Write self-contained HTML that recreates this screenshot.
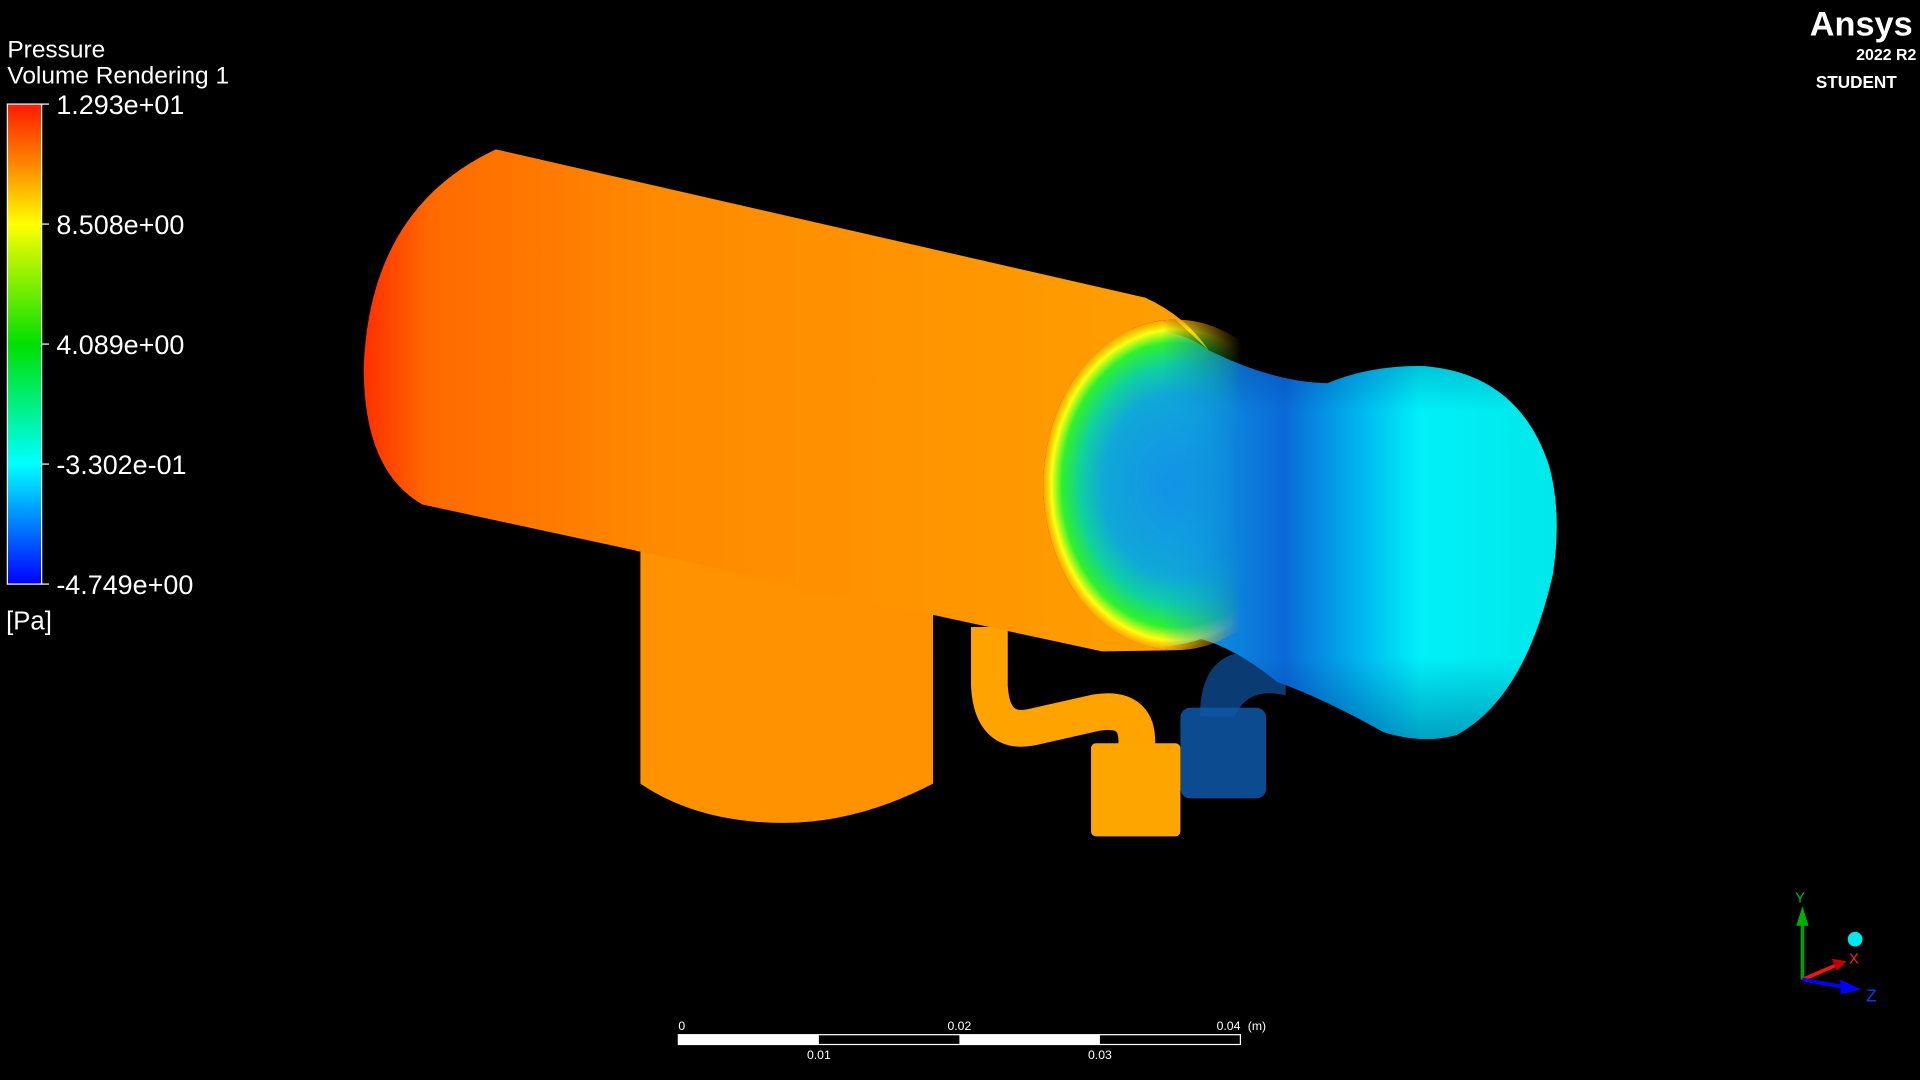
<!DOCTYPE html>
<html><head><meta charset="utf-8">
<style>
html,body{margin:0;padding:0;background:#000;width:1920px;height:1080px;overflow:hidden}
svg{display:block}
text{font-family:"Liberation Sans",Arial,sans-serif;fill:#fff}
</style></head>
<body>
<svg id="view" width="1920" height="1080" viewBox="0 0 1568 882" xmlns="http://www.w3.org/2000/svg">
<defs>
<linearGradient id="cbar" x1="0" y1="0" x2="0" y2="1">
<stop offset="0" stop-color="#ff1a00"/><stop offset="0.13" stop-color="#ff8c00"/>
<stop offset="0.25" stop-color="#ffff00"/><stop offset="0.5" stop-color="#00e000"/>
<stop offset="0.75" stop-color="#00ffff"/><stop offset="1" stop-color="#0000ff"/>
</linearGradient>
<linearGradient id="body" x1="0" y1="0" x2="1" y2="0">
<stop offset="0" stop-color="#ff3000"/><stop offset="0.08" stop-color="#ff6a00"/>
<stop offset="0.35" stop-color="#ff8a00"/><stop offset="1" stop-color="#ffa000"/>
</linearGradient>
<linearGradient id="noz" gradientUnits="userSpaceOnUse" x1="955" y1="0" x2="1270" y2="0">
<stop offset="0" stop-color="#10a0e0"/><stop offset="0.3" stop-color="#0a6ad8"/>
<stop offset="0.5" stop-color="#00b8f0"/><stop offset="0.65" stop-color="#00f0f8"/>
<stop offset="1" stop-color="#00e8ea"/>
</linearGradient>
<linearGradient id="nozShade" x1="0" y1="0" x2="0" y2="1">
<stop offset="0" stop-color="#001060" stop-opacity="0.35"/><stop offset="0.2" stop-color="#001060" stop-opacity="0"/>
<stop offset="0.8" stop-color="#001060" stop-opacity="0"/><stop offset="1" stop-color="#001060" stop-opacity="0.35"/>
</linearGradient>
<radialGradient id="ring" cx="0.5" cy="0.5" r="0.5">
<stop offset="0" stop-color="#1490e8"/><stop offset="0.55" stop-color="#10a8d8"/>
<stop offset="0.72" stop-color="#10d0a0"/><stop offset="0.86" stop-color="#30f030"/>
<stop offset="0.94" stop-color="#ffff10"/><stop offset="1" stop-color="#ffa000"/>
</radialGradient>
<linearGradient id="fadeGrad" gradientUnits="userSpaceOnUse" x1="852" y1="0" x2="1068" y2="0">
<stop offset="0" stop-color="#fff"/><stop offset="0.45" stop-color="#fff"/>
<stop offset="0.75" stop-color="#000"/>
</linearGradient>
<mask id="fade"><rect x="800" y="200" width="320" height="400" fill="url(#fadeGrad)"/></mask>
</defs>
<rect width="1568" height="882" fill="#000"/>

<!-- legend -->
<text x="6" y="47" font-size="20">Pressure</text>
<text x="6" y="68" font-size="20">Volume Rendering 1</text>
<rect x="6" y="85" width="28" height="392" fill="url(#cbar)" stroke="#fff" stroke-width="1"/>
<g id="ticks"></g>
<text x="5" y="514" font-size="21">[Pa]</text>

<!-- logo -->
<text x="1562" y="29" font-size="28" font-weight="bold" text-anchor="end">Ansys</text>
<text x="1565" y="49" font-size="13" font-weight="bold" text-anchor="end">2022 R2</text>
<text x="1549" y="72" font-size="14" font-weight="bold" text-anchor="end">STUDENT</text>

<!-- geometry -->
<g>
<path d="M980,585 Q980,545 1005,535 Q1030,528 1050,540 L1050,568 Q1020,560 1008,585 Z" fill="#0d4a90" opacity="0.8"/>
<rect x="964" y="578" width="70" height="74" rx="8" fill="#0e58a8" opacity="0.85"/>
<path d="M523,440 L762,440 L762,640 Q700,672 640,672 Q570,672 523,640 Z" fill="#ff9200"/>
<path d="M808,512 L808,560 Q810,600 842,594 L895,582 Q932,576 928,612" fill="none" stroke="#ffa300" stroke-width="30"/>
<rect x="891" y="607" width="73" height="76" rx="4" fill="#ffa500"/>
<path d="M880,275 Q950,258 987,286 Q1040,312 1084,313 Q1120,298 1163,299 Q1240,305 1265,380 Q1276,420 1268,470 Q1245,570 1190,600 Q1163,608 1130,598 Q1080,570 1043,557 Q1010,530 981,522 Q940,535 880,525 Z" fill="url(#noz)"/>
<path d="M880,275 Q950,258 987,286 Q1040,312 1084,313 Q1120,298 1163,299 Q1240,305 1265,380 Q1276,420 1268,470 Q1245,570 1190,600 Q1163,608 1130,598 Q1080,570 1043,557 Q1010,530 981,522 Q940,535 880,525 Z" fill="url(#nozShade)"/>
<path d="M405,122 L935,243 Q968,258 987,286 L960,261 A108,135 0 0 0 960,531 L900,532 L345,412 Q297,385 297,300 Q302,170 405,122 Z" fill="url(#body)"/>
<ellipse cx="960" cy="396" rx="108" ry="135" fill="url(#ring)" mask="url(#fade)"/>
</g>

<!-- scale bar -->
<g>
<rect x="554" y="845" width="459" height="8" fill="#000" stroke="#fff" stroke-width="1"/>
<g id="segs"></g>
<g id="slabels"></g>
</g>

<!-- triad -->
<g>
<line x1="1472" y1="800" x2="1472" y2="752" stroke="#00a000" stroke-width="3"/>
<polygon points="1467,756 1477,756 1472,740" fill="#00b000"/>
<text x="1466" y="737" font-size="12" style="fill:#00c000">Y</text>
<line x1="1472" y1="800" x2="1500" y2="788" stroke="#ff1010" stroke-width="3"/>
<polygon points="1496,783 1508,785 1500,793" fill="#c00000"/>
<text x="1510" y="787" font-size="12" style="fill:#ff2020">X</text>
<line x1="1472" y1="800" x2="1506" y2="806" stroke="#0000ff" stroke-width="3"/>
<polygon points="1503,800 1520,808 1503,812" fill="#0000ff"/>
<text x="1524" y="818" font-size="14" style="fill:#0040ff">Z</text>
<circle cx="1515" cy="767" r="6" fill="#00e8f0"/>
</g>
</svg>
<script>
const tickLabels = ["1.293e+01","8.508e+00","4.089e+00","-3.302e-01","-4.749e+00"];
const tickFractions = [0, 0.25, 0.5, 0.75, 1];
const scaleValues = [0, 0.01, 0.02, 0.03, 0.04];
const NS = "http://www.w3.org/2000/svg";
const cbTop = 85, cbH = 392;
const ticks = document.getElementById('ticks');
tickLabels.forEach((lab, i) => {
  const y = cbTop + tickFractions[i] * cbH;
  const t = document.createElementNS(NS, 'text');
  
  
  t.setAttribute('x', 46); t.setAttribute('y', y + 8); t.setAttribute('font-size', '22');
  t.textContent = lab; ticks.appendChild(t);
  const l = document.createElementNS(NS, 'line');
  
  
  l.setAttribute('x1', 34); l.setAttribute('x2', 40); l.setAttribute('y1', y); l.setAttribute('y2', y);
  l.setAttribute('stroke', '#fff'); ticks.appendChild(l);
});
const sx = v => 554 + v / 0.04 * 459;
const segs = document.getElementById('segs'), sl = document.getElementById('slabels');
scaleValues.forEach((v, i) => {
  if (i < scaleValues.length - 1 && i % 2 === 0) {
    const r = document.createElementNS(NS, 'rect');
    
    
    r.setAttribute('x', sx(v)); r.setAttribute('y', 845);
    r.setAttribute('width', sx(scaleValues[i + 1]) - sx(v)); r.setAttribute('height', 8);
    r.setAttribute('fill', '#fff'); segs.appendChild(r);
  }
  const t = document.createElementNS(NS, 'text');
  
  
  t.setAttribute('x', sx(v)); t.setAttribute('y', i % 2 === 0 ? 841 : 865);
  t.setAttribute('font-size', '10');
  t.setAttribute('text-anchor', i === 0 ? 'start' : (i === scaleValues.length - 1 ? 'end' : 'middle'));
  t.textContent = String(v); sl.appendChild(t);
});
const u = document.createElementNS(NS, 'text');


u.setAttribute('x', 1019); u.setAttribute('y', 841); u.setAttribute('font-size', '10');
u.textContent = '(m)'; sl.appendChild(u);
</script>
</body></html>
